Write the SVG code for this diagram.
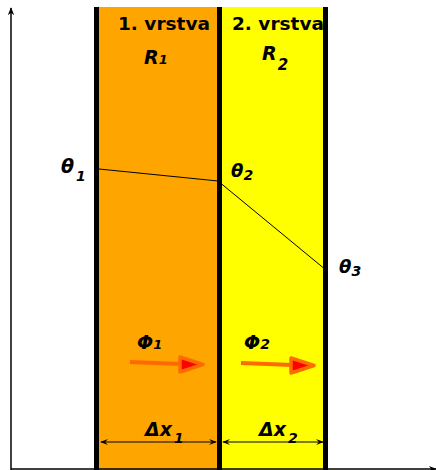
<svg xmlns="http://www.w3.org/2000/svg" width="436" height="470" viewBox="0 0 436 470">
<style>
.t{font-family:"DejaVu Sans",sans-serif;font-weight:bold;fill:#000}
.i{font-style:italic}
.wall{stroke:#000;stroke-width:5}
</style>
<defs>
<marker id="ax" viewBox="0 0 10 10" refX="9" refY="5" markerWidth="8" markerHeight="8" markerUnits="userSpaceOnUse" orient="auto"><path d="M0,1 L10,5 L0,9 L3,5 z" fill="#000"/></marker>
<marker id="dm" viewBox="0 0 10 10" refX="9" refY="5" markerWidth="8" markerHeight="8" markerUnits="userSpaceOnUse" orient="auto-start-reverse"><path d="M0,1 L10,5 L0,9 L4,5 z" fill="#000"/></marker>
</defs>
<g id="layer1"><rect x="99" y="7" width="118" height="463" fill="#ffa500"/></g>
<g id="layer2"><rect x="222" y="7" width="101" height="463" fill="#ffff00"/></g>
<g id="walls">
<line class="wall" x1="96.5" y1="7" x2="96.5" y2="470"/>
<line class="wall" x1="219.5" y1="7" x2="219.5" y2="470"/>
<line class="wall" x1="325.5" y1="7" x2="325.5" y2="470"/>
</g>
<g id="connectors">
<line x1="11" y1="470" x2="11" y2="8" stroke="#000" stroke-width="1.5" marker-end="url(#ax)"/>
<line x1="11" y1="469" x2="436" y2="469" stroke="#000" stroke-width="1.5" marker-end="url(#ax)"/>
<polyline points="99,169 218,181 326,270" fill="none" stroke="#000" stroke-width="1"/>
<line x1="101" y1="442" x2="216" y2="442" stroke="#000" stroke-width="1" marker-start="url(#dm)" marker-end="url(#dm)"/>
<line x1="223" y1="442" x2="323" y2="442" stroke="#000" stroke-width="1" marker-start="url(#dm)" marker-end="url(#dm)"/>
<g id="flux1">
<line x1="130" y1="362" x2="182" y2="364" stroke="#ff6a00" stroke-width="4"/>
<path d="M180,357 L203,364.5 L180,372 Z" fill="#ff0000" stroke="#ff6a00" stroke-width="3.5" stroke-linejoin="round"/>
</g>
<g id="flux2">
<line x1="241" y1="363" x2="293" y2="365" stroke="#ff6a00" stroke-width="4"/>
<path d="M291,358 L314,365.5 L291,373 Z" fill="#ff0000" stroke="#ff6a00" stroke-width="3.5" stroke-linejoin="round"/>
</g>
</g>
<g id="labels">
<text class="t" x="118" y="30" font-size="18.5">1. vrstva</text>
<text class="t" x="232" y="30" font-size="18.5">2. vrstva</text>
<text class="t i" x="144" y="64" font-size="19">R<tspan font-size="13">1</tspan></text>
<text class="t i" x="262" y="60" font-size="19">R<tspan font-size="15" dx="1" dy="10">2</tspan></text>
<text class="t i" x="61" y="173" font-size="19">θ<tspan font-size="14" dx="2" dy="8">1</tspan></text>
<text class="t i" x="231" y="177" font-size="18">θ<tspan font-size="14" dy="3">2</tspan></text>
<text class="t i" x="339" y="273" font-size="18">θ<tspan font-size="14" dy="3">3</tspan></text>
<text class="t i" x="137" y="349" font-size="19">Φ<tspan font-size="13">1</tspan></text>
<text class="t i" x="244" y="349" font-size="19">Φ<tspan font-size="14">2</tspan></text>
<text class="t i" x="145" y="436" font-size="19">Δx<tspan font-size="14" dx="2" dy="7">1</tspan></text>
<text class="t i" x="259" y="436" font-size="19">Δx<tspan font-size="14" dx="2" dy="7">2</tspan></text>
</g>
</svg>
